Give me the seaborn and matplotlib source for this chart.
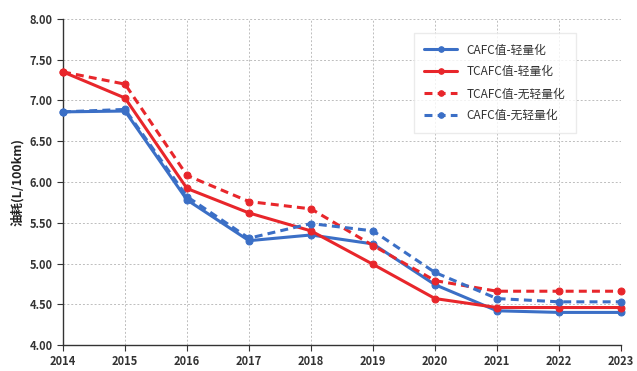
import matplotlib
matplotlib.use("Agg")
import matplotlib.pyplot as plt
import pandas as pd
import seaborn as sns
from matplotlib.ticker import FormatStrFormatter

years = [2014, 2015, 2016, 2017, 2018, 2019, 2020, 2021, 2022, 2023]
cafc_light = [6.86, 6.87, 5.78, 5.28, 5.35, 5.24, 4.74, 4.42, 4.40, 4.40]
tcafc_light = [7.35, 7.03, 5.92, 5.62, 5.40, 4.99, 4.57, 4.46, 4.46, 4.46]
tcafc_none = [7.35, 7.20, 6.08, 5.76, 5.67, 5.22, 4.79, 4.66, 4.66, 4.66]
cafc_none = [6.86, 6.89, 5.82, 5.31, 5.49, 5.40, 4.89, 4.57, 4.53, 4.53]

series_names = ["CAFC值-轻量化", "TCAFC值-轻量化", "TCAFC值-无轻量化", "CAFC值-无轻量化"]
series_values = [cafc_light, tcafc_light, tcafc_none, cafc_none]
series_colors = ["#3b6fc6", "#e8262b", "#e8262b", "#3b6fc6"]
series_dashed = [False, False, True, True]

sns.set_style("white")
plt.rcParams["font.family"] = ["Noto Sans CJK SC", "DejaVu Sans"]

fig = plt.figure(figsize=(6.37, 3.71), dpi=100)
ax = fig.add_axes([0.0989, 0.070, 0.876, 0.879])

for name, vals, color, dashed in zip(series_names, series_values, series_colors, series_dashed):
    df = pd.DataFrame({"year": years, "value": vals})
    sns.lineplot(
        data=df, x="year", y="value", ax=ax, color=color,
        linestyle=(0, (2.6, 1.7)) if dashed else "-", linewidth=2.2,
        marker="o", markersize=5, markeredgecolor=color,
        label=name, clip_on=False, zorder=3,
    )

ax.set_xlim(2014, 2023)
ax.set_ylim(4.0, 8.0)
ax.set_xticks(years)
ax.set_yticks([4.0, 4.5, 5.0, 5.5, 6.0, 6.5, 7.0, 7.5, 8.0])
ax.yaxis.set_major_formatter(FormatStrFormatter("%.2f"))
ax.grid(True, linestyle=(0, (2, 2)), color="#bdbdbd", linewidth=0.7)
ax.set_xlabel("")
ax.set_ylabel("油耗(L/100km)", fontsize=9, fontweight="bold", color="#222222")

for side in ["top", "right"]:
    ax.spines[side].set_visible(False)
for side in ["left", "bottom"]:
    ax.spines[side].set_color("#333333")
    ax.spines[side].set_linewidth(1.0)

ax.tick_params(axis="both", labelsize=8, colors="#333333", length=4, direction="out",
               left=True, bottom=True)
for lab in ax.get_xticklabels() + ax.get_yticklabels():
    lab.set_fontweight("bold")

leg = ax.legend(loc="upper right", bbox_to_anchor=(0.93, 0.975), frameon=True,
                fontsize=8.5, handlelength=2.8, labelspacing=0.75, borderpad=0.9,
                fancybox=False, edgecolor="#e6e6e6", markerscale=0.8)
for text in leg.get_texts():
    text.set_color("#333333")

fig.savefig("out.png", dpi=100)
